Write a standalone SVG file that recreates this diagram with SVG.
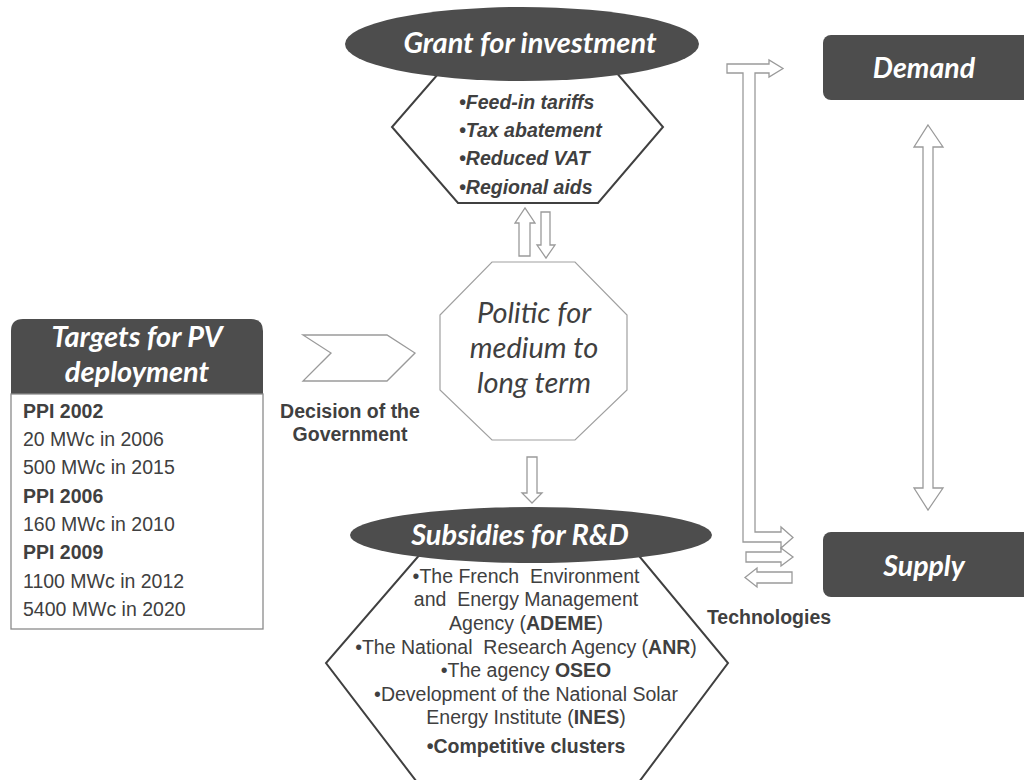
<svg xmlns="http://www.w3.org/2000/svg" width="1024" height="780" viewBox="0 0 1024 780">
<style>
.dark{fill:#4d4d4d}
.hdr{font-family:Lato,"Open Sans",sans-serif;font-style:italic;font-weight:bold;fill:#fff;text-anchor:middle}
.arr{fill:#fff;stroke:#9a9a9a;stroke-width:1.3}
.hex{fill:#fff;stroke:#404040;stroke-width:2}
.body{font-family:"Liberation Sans",Arial,sans-serif;fill:#404040;font-size:19.5px}
.b{font-weight:bold}
.lab{font-family:"Liberation Sans",Arial,sans-serif;fill:#404040;font-size:19.5px;font-weight:bold;text-anchor:middle}
</style>
<rect width="1024" height="780" fill="#fff"/>
<g id="connectors">
<polygon class="arr" points="303,335 387,335 415,353 387,381 303,381 331,353"/>
<polygon class="arr" points="519,256 519,223 515,223 525,208 535,223 530,223 530,256"/>
<polygon class="arr" points="541,212 550,212 550,245 555,245 546,258 537,245 541,245"/>
<polygon class="arr" points="527,457 537,457 537,493 542,493 532,503 522,493 527,493"/>
<polygon class="arr" points="727,64 769,64 769,60 783,68.5 769,77 769,73 755,73 755,532 781,532 781,527 793,537.5 781,548 781,542 743,542 743,73 727,73"/>
<polygon class="arr" points="746,552 781,552 781,548 793,557 781,566 781,562 746,562"/>
<polygon class="arr" points="792,572 792,583 757,583 757,587 745,577.5 757,568 757,572"/>
<polygon class="arr" points="928,125 943,147 933,147 933,488 943,488 928,510 914,488 923,488 923,147 914,147"/>
</g>
<g id="targets">
<path class="dark" d="M11,394 V331 Q11,319 23,319 H251 Q263,319 263,331 V394 Z"/>
<rect x="11" y="394" width="252" height="235" fill="#fff" stroke="#8a8a8a" stroke-width="1.3"/>
<text class="hdr" font-size="29" x="137" y="347">Targets for PV</text>
<text class="hdr" font-size="29" x="137" y="382">deployment</text>
<text class="body" x="23" y="418"><tspan class="b">PPI 2002</tspan></text>
<text class="body" x="23" y="446">20 MWc in 2006</text>
<text class="body" x="23" y="474">500 MWc in 2015</text>
<text class="body" x="23" y="503"><tspan class="b">PPI 2006</tspan></text>
<text class="body" x="23" y="531">160 MWc in 2010</text>
<text class="body" x="23" y="559"><tspan class="b">PPI 2009</tspan></text>
<text class="body" x="23" y="588">1100 MWc in 2012</text>
<text class="body" x="23" y="616">5400 MWc in 2020</text>
</g>
<g id="decision">
<text class="lab" x="350" y="418">Decision of the</text>
<text class="lab" x="350" y="441">Government</text>
</g>
<g id="grant">
<polygon class="hex" points="458,51 598,51 663,127 598,203 458,203 392,127"/>
<ellipse class="dark" cx="522" cy="44" rx="177" ry="37"/>
<text class="hdr" font-size="29" x="530" y="53">Grant for investment</text>
<g font-family="'Liberation Sans',Arial,sans-serif" font-size="19.5" font-weight="bold" font-style="italic" fill="#404040">
<text x="459" y="109">•Feed-in tariffs</text>
<text x="459" y="137">•Tax abatement</text>
<text x="459" y="165">•Reduced VAT</text>
<text x="459" y="194">•Regional aids</text>
</g>
</g>
<g id="politic">
<polygon points="492,262 575,262 627,315 627,390 575,440 492,440 440,390 440,315" fill="#fff" stroke="#a0a0a0" stroke-width="1.2"/>
<g font-family="Lato,'Open Sans',sans-serif" font-style="italic" font-size="29" fill="#404040" text-anchor="middle">
<text x="534" y="323">Politic for</text>
<text x="534" y="358">medium to</text>
<text x="534" y="393">long term</text>
</g>
</g>
<g id="subsidies">
<polygon class="hex" points="428,545 630,545 728,663 633,790 423,790 326,663"/>
<ellipse class="dark" cx="531" cy="535" rx="181" ry="28"/>
<text class="hdr" font-size="29" x="520" y="545">Subsidies for R&amp;D</text>
<g class="body" text-anchor="middle">
<text x="526" y="583" xml:space="preserve">•The French  Environment</text>
<text x="526" y="606" xml:space="preserve">and  Energy Management</text>
<text x="526" y="630">Agency (<tspan class="b">ADEME</tspan>)</text>
<text x="526" y="654" xml:space="preserve">•The National  Research Agency (<tspan class="b">ANR</tspan>)</text>
<text x="526" y="677">•The agency <tspan class="b">OSEO</tspan></text>
<text x="526" y="701">•Development of the National Solar</text>
<text x="526" y="724">Energy Institute (<tspan class="b">INES</tspan>)</text>
<text x="526" y="753" class="b">•Competitive clusters</text>
</g>
</g>
<g id="demand">
<rect class="dark" x="823" y="35" width="215" height="65" rx="8"/>
<text class="hdr" font-size="28.5" x="924" y="78">Demand</text>
</g>
<g id="supply">
<rect class="dark" x="823" y="532" width="215" height="65" rx="8"/>
<text class="hdr" font-size="28.5" x="924" y="576">Supply</text>
</g>
<g id="technologies">
<text class="lab" x="769" y="624">Technologies</text>
</g>
</svg>
